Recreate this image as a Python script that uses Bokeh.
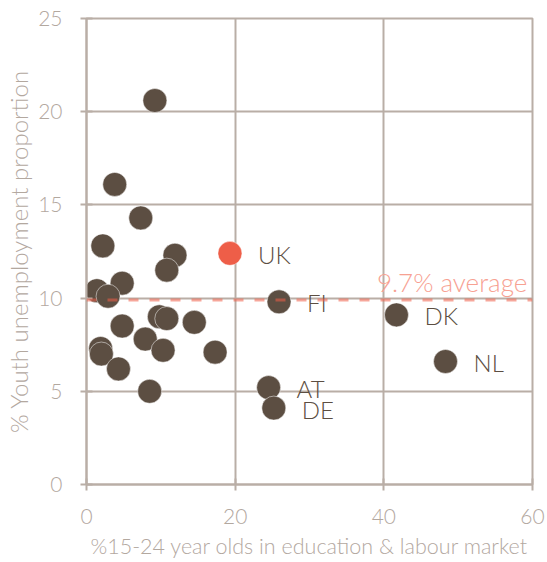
from bokeh.plotting import figure
from bokeh.models import ColumnDataSource, Span, Label, FixedTicker
from bokeh.embed import file_html
from bokeh.resources import INLINE
from bokeh.core.properties import value

# Unlabelled countries
other_x = [9.2, 3.8, 7.3, 2.2, 11.9, 10.8, 4.8, 1.4, 2.9, 9.8, 10.8, 14.5, 4.8, 7.9, 10.3, 17.3, 1.9, 2.0, 4.3, 8.5]
other_y = [20.6, 16.1, 14.3, 12.8, 12.3, 11.5, 10.8, 10.4, 10.1, 9.0, 8.9, 8.7, 8.5, 7.8, 7.2, 7.1, 7.3, 7.0, 6.2, 5.0]

# Labelled countries
lab_names = ["FI", "DK", "NL", "AT", "DE"]
lab_x = [25.9, 41.7, 48.3, 24.5, 25.2]
lab_y = [9.8, 9.1, 6.6, 5.2, 4.1]

uk_name = ["UK"]
uk_x = [19.3]
uk_y = [12.4]

avg_y = 9.9
avg_text = "9.7% average"

x_ticks = [0, 20, 40, 60]
y_ticks = [0, 5, 10, 15, 20, 25]

x_title = "%15-24 year olds in education & labour market"
y_title = "% Youth unemployment proportion"

FONT = "Lato Light"
DARK = "#5c4e42"
UKC = "#ee5e48"
GRID = "#b9aea6"
TICKC = "#b3a89f"

p = figure(width=546, height=561, x_range=(0, 60), y_range=(0, 25),
           output_backend="svg", toolbar_location=None,
           min_border_left=86, min_border_right=14, min_border_top=18, min_border_bottom=76)
p.outline_line_color = GRID
p.outline_line_width = 2
p.background_fill_color = "white"
p.border_fill_color = "white"

for ax in (p.xaxis[0], p.yaxis[0]):
    ax.axis_line_color = GRID
    ax.axis_line_width = 2
    ax.major_tick_line_color = GRID
    ax.major_tick_line_width = 2
    ax.major_tick_in = 6
    ax.major_tick_out = 6
    ax.minor_tick_line_color = None
    ax.major_label_text_color = TICKC
    ax.major_label_text_font = FONT
    ax.major_label_text_font_size = "21px"
    ax.axis_label_text_color = TICKC
    ax.axis_label_text_font = FONT
    ax.axis_label_text_font_style = "normal"

p.xaxis.axis_label = x_title
p.yaxis.axis_label = y_title
p.xaxis.axis_label_text_font_size = "21.5px"
p.yaxis.axis_label_text_font_size = "24px"
p.xaxis.ticker = FixedTicker(ticks=x_ticks)
p.yaxis.ticker = FixedTicker(ticks=y_ticks)
p.xaxis.major_label_standoff = 18
p.yaxis.major_label_standoff = 18
p.xaxis.axis_label_standoff = 6
p.yaxis.axis_label_standoff = 2

p.xgrid.ticker = FixedTicker(ticks=x_ticks)
p.ygrid.ticker = FixedTicker(ticks=y_ticks)
p.xgrid.grid_line_color = GRID
p.ygrid.grid_line_color = GRID
p.xgrid.grid_line_width = 2
p.ygrid.grid_line_width = 2

src_o = ColumnDataSource(dict(x=other_x, y=other_y))
src_l = ColumnDataSource(dict(x=lab_x, y=lab_y, name=lab_names))
src_u = ColumnDataSource(dict(x=uk_x, y=uk_y, name=uk_name))

p.scatter("x", "y", source=src_o, size=24, fill_color=DARK, line_color="white", line_width=0.5)
p.scatter("x", "y", source=src_l, size=24, fill_color=DARK, line_color="white", line_width=0.5)
p.scatter("x", "y", source=src_u, size=24, fill_color=UKC, line_color="white", line_width=0.5)

p.text("x", "y", text="name", source=src_l, x_offset=28, y_offset=1,
       text_font=value(FONT), text_font_size="24px", text_color=DARK, text_baseline="middle")
p.text("x", "y", text="name", source=src_u, x_offset=28, y_offset=1,
       text_font=value(FONT), text_font_size="24px", text_color=DARK, text_baseline="middle")

span = Span(location=avg_y, dimension="width", line_color=UKC, line_alpha=0.55,
            line_width=3, line_dash="10 11")
p.add_layout(span)
p.add_layout(Label(x=59.3, y=avg_y + 0.95, text=avg_text, text_align="right",
                   text_baseline="middle", text_color="#f7a192",
                   text_font=FONT, text_font_size="26px"))

open("out.html", "w").write(file_html(p, INLINE))
